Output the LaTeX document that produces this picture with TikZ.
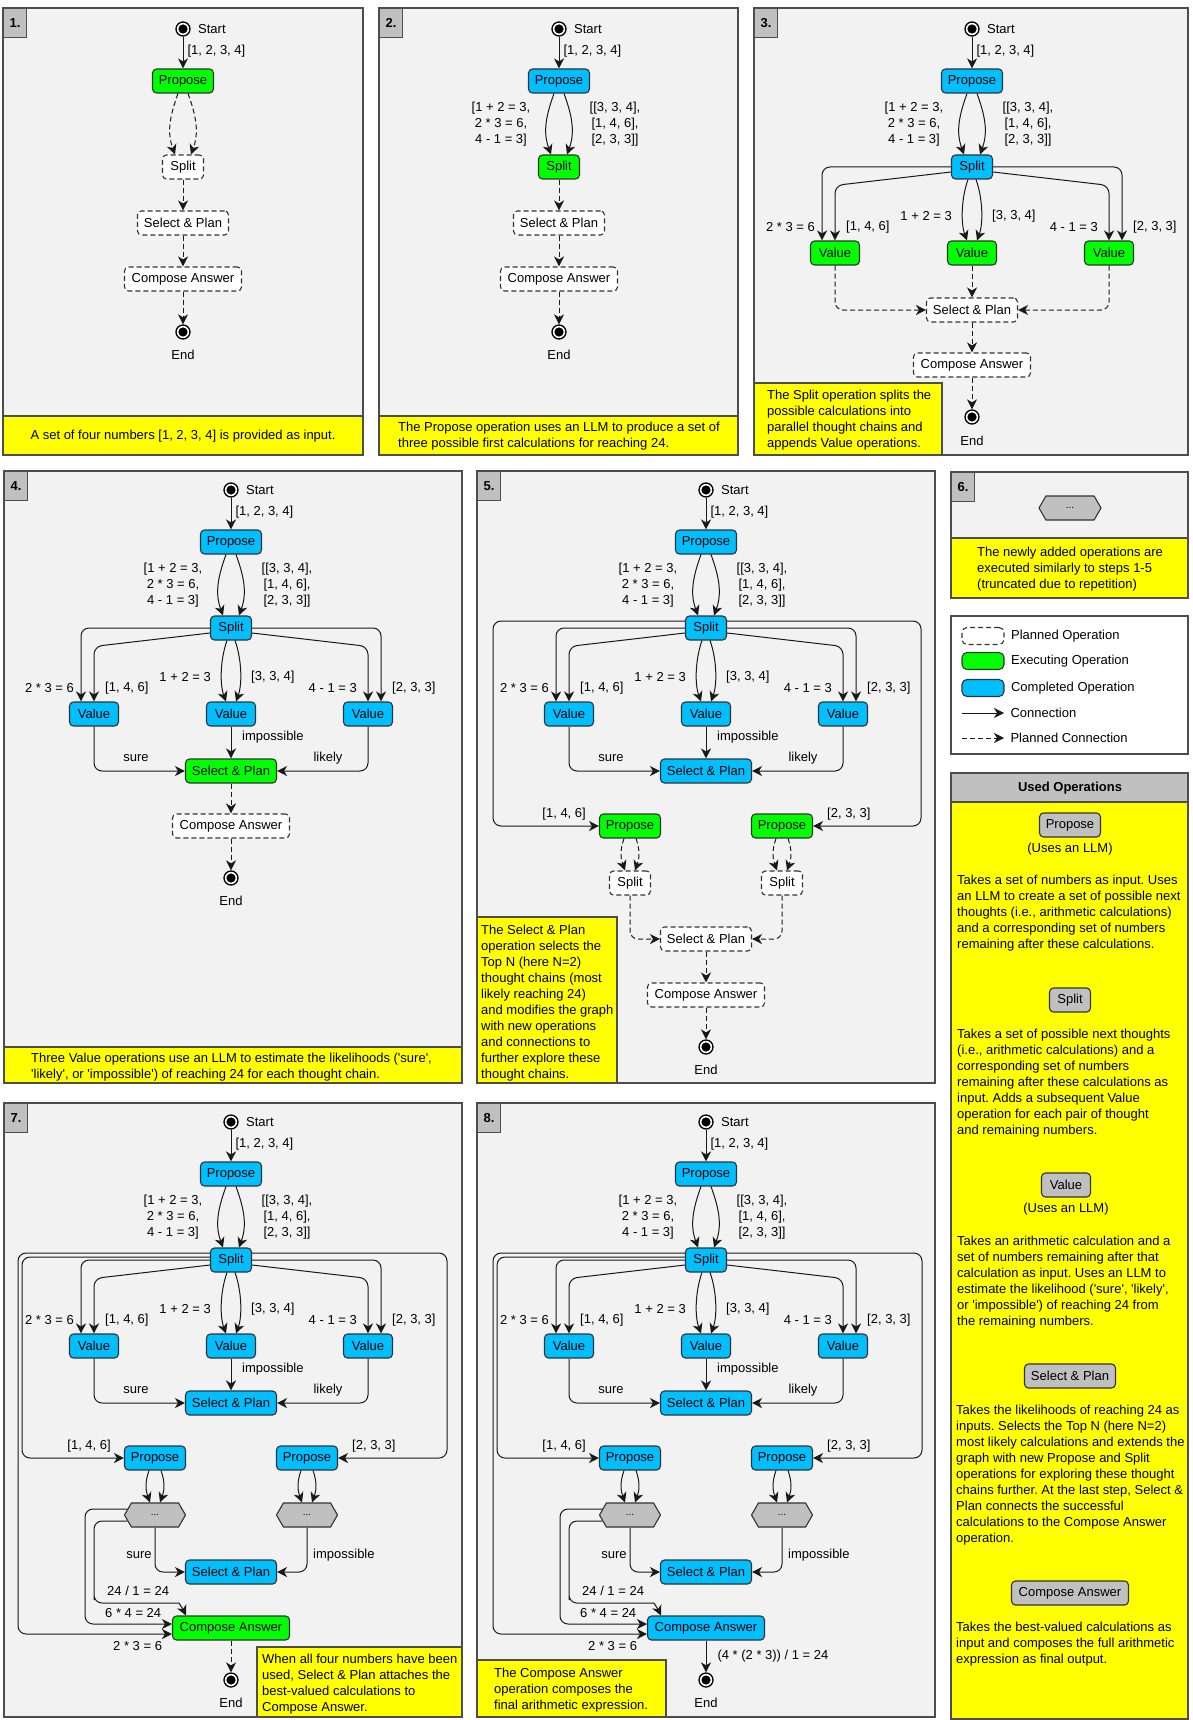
\documentclass[tikz,border=0pt]{standalone}
\usepackage{fontspec}
\setmainfont{Liberation Sans}[Ligatures=TeXOff]
\usetikzlibrary{arrows.meta,positioning,shapes.symbols}
\frenchspacing

\definecolor{panelbg}{HTML}{F2F2F2}
\definecolor{rimcol}{HTML}{4D4D4D}
\definecolor{tabgray}{HTML}{C0C0C0}
\definecolor{runcol}{HTML}{00FF00}
\definecolor{donecol}{HTML}{00BFFF}
\definecolor{notecol}{HTML}{FFFF00}

\newcommand{\bodyfont}{\fontsize{13pt}{16pt}\selectfont}

\tikzset{
  op/.style={draw=black!80, line width=1.1pt, rounded corners=4pt, minimum height=24pt, inner xsep=2pt, inner ysep=0pt},
  planned/.style={op, fill=white, dash pattern=on 5pt off 3pt},
  run/.style={op, fill=runcol},
  done/.style={op, fill=donecol},
  usedop/.style={op, fill=tabgray},
  wprop/.style={minimum width=61pt},
  wsplit/.style={minimum width=41pt},
  wvalue/.style={minimum width=49pt},
  wsel/.style={minimum width=91pt},
  wcomp/.style={minimum width=117pt},
  hexop/.style={signal, signal to=east and west, signal pointer angle=120, draw=black!80, line width=1.1pt, fill=tabgray, minimum width=61pt, minimum height=24pt, inner sep=0pt, font=\fontsize{10pt}{12pt}\selectfont},
  term/.style={circle, draw=black, line width=1.3pt, fill=white, minimum size=14pt, inner sep=0pt, path picture={\fill[black] (path picture bounding box.center) circle (4.6pt);}},
  flow/.style={draw=black!90, line width=1pt, -{Stealth[length=10pt, width=10pt, inset=3pt]}},
  planflow/.style={flow, dash pattern=on 5pt off 3pt},
  lbl/.style={inner sep=1pt},
  note/.style={align=left, inner sep=0pt, anchor=west},
  panel/.style={draw=rimcol, line width=1.3pt, fill=panelbg},
  caption/.style={draw=rimcol, line width=1.3pt, fill=notecol},
  tab/.style={draw=rimcol, line width=1.3pt, fill=tabgray, anchor=north west, minimum width=23pt, minimum height=29pt, inner sep=0pt, font=\bodyfont\bfseries},
}

\newcommand{\twin}[5]{%
  \draw[#1] ([xshift=-#4]#2.south) to[out=-110, in=110] ([xshift=-#5]#3.north);
  \draw[#1] ([xshift=#4]#2.south) to[out=-70, in=70] ([xshift=#5]#3.north);
}
\newcommand{\headrow}[4]{%
  \node[term] (#1start) at (0,0) {};
  \node[right=4pt of #1start] {Start};
  \node[#2, wprop] (#1prop) at (0,52) {Propose};
  \node[#3, wsplit] (#1split) at (0,138) {Split};
  \draw[flow] (#1start) -- node[lbl, right=3pt, pos=.45] {[1, 2, 3, 4]} (#1prop);
  \twin{#4}{#1prop}{#1split}{5pt}{8pt}
}
\newcommand{\calclabels}[1]{%
  \node[lbl, align=center] (#1calc) at (-58,95) {[1 + 2 = 3,\\2 * 3 = 6,\\4 - 1 = 3]};
  \node[lbl, align=center] (#1rest) at (56,95) {[[3, 3, 4],\\{}[1, 4, 6],\\{}[2, 3, 3]]};
}
\newcommand{\valuerow}[2]{%
  \node[#2, wvalue] (#1vl) at (-137,224) {Value};
  \node[#2, wvalue] (#1vm) at (0,224) {Value};
  \node[#2, wvalue] (#1vr) at (137,224) {Value};
  \draw[flow, rounded corners=8pt] (#1split.west) -| ([xshift=-13pt]#1vl.north);
  \draw[flow, rounded corners=8pt] ([yshift=-5pt]#1split.west) -- ([yshift=55pt]#1vl.north) -- (#1vl.north);
  \draw[flow, rounded corners=8pt] (#1split.east) -| ([xshift=13pt]#1vr.north);
  \draw[flow, rounded corners=8pt] ([yshift=-5pt]#1split.east) -- ([yshift=55pt]#1vr.north) -- (#1vr.north);
  \twin{flow, looseness=.8}{#1split}{#1vm}{4pt}{5pt}
  \node[lbl, anchor=east] at (-156,198) {2 * 3 = 6};
  \node[lbl, anchor=west] at (-127,198) {[1, 4, 6]};
  \node[lbl, anchor=east] at (-19,187) {1 + 2 = 3};
  \node[lbl, anchor=west] at (19,187) {[3, 3, 4]};
  \node[lbl, anchor=east] at (127,198) {4 - 1 = 3};
  \node[lbl, anchor=west] at (160,198) {[2, 3, 3]};
}
\newcommand{\valuejoin}[2]{%
  \draw[#2, rounded corners=8pt] (#1vl.south) |- (#1sel.west);
  \draw[#2] (#1vm) -- (#1sel);
  \draw[#2, rounded corners=8pt] (#1vr.south) |- (#1sel.east);
}
\newcommand{\valuewords}{%
  \node[lbl] at (-95,268) {sure};
  \node[lbl, anchor=west] at (10,247) {impossible};
  \node[lbl] at (97,268) {likely};
}
\newcommand{\branchrow}[2]{%
  \node[#2, wprop] (#1prl) at (-76,336) {Propose};
  \node[#2, wprop] (#1prr) at (76,336) {Propose};
  \node[lbl, anchor=east] at (-119,324) {[1, 4, 6]};
  \node[lbl, anchor=west] at (120,324) {[2, 3, 3]};
}

\begin{document}
\begin{tikzpicture}[x=1pt, y=-1pt, font=\bodyfont]
\fill[white] (0,0) rectangle (1192,1720);
\useasboundingbox (0,0) rectangle (1192,1720);

% 1.
\draw[panel] (3,8) rectangle (363,455);
\draw[caption] (3,416) rectangle (363,455);
\node[tab] at (3,8) {1.};
\node at (183,436) {A set of four numbers [1, 2, 3, 4] is provided as input.};
\begin{scope}[shift={(183,29)}]
  \headrow{a}{run}{planned}{planflow}
  \node[planned, wsel] (asel) at (0,194) {Select \& Plan};
  \node[planned, wcomp] (acomp) at (0,250) {Compose Answer};
  \node[term] (aend) at (0,303) {};
  \node[below=7pt of aend] {End};
  \draw[planflow] (asplit) -- (asel);
  \draw[planflow] (asel) -- (acomp);
  \draw[planflow] (acomp) -- (aend);
\end{scope}

% 2.
\draw[panel] (379,8) rectangle (738,455);
\draw[caption] (379,416) rectangle (738,455);
\node[tab] at (379,8) {2.};
\node[note] at (398,436) {The Propose operation uses an LLM to produce a set of\\three possible first calculations for reaching 24.};
\begin{scope}[shift={(559,29)}]
  \headrow{b}{done}{run}{flow}
  \calclabels{b}
  \node[planned, wsel] (bsel) at (0,194) {Select \& Plan};
  \node[planned, wcomp] (bcomp) at (0,250) {Compose Answer};
  \node[term] (bend) at (0,303) {};
  \node[below=7pt of bend] {End};
  \draw[planflow] (bsplit) -- (bsel);
  \draw[planflow] (bsel) -- (bcomp);
  \draw[planflow] (bcomp) -- (bend);
\end{scope}

% 3.
\draw[panel] (754,8) rectangle (1188,455);
\draw[caption] (754,383) rectangle (942,455);
\node[tab] at (754,8) {3.};
\node[note] at (767,420) {The Split operation splits the\\possible calculations into\\parallel thought chains and\\appends Value operations.};
\begin{scope}[shift={(972,29)}]
  \headrow{c}{done}{done}{flow}
  \calclabels{c}
  \valuerow{c}{run}
  \node[planned, wsel] (csel) at (0,281) {Select \& Plan};
  \valuejoin{c}{planflow}
  \node[planned, wcomp] (ccomp) at (0,336) {Compose Answer};
  \node[term] (cend) at (0,388) {};
  \node[below=8pt of cend] {End};
  \draw[planflow] (csel) -- (ccomp);
  \draw[planflow] (ccomp) -- (cend);
\end{scope}

% 4.
\draw[panel] (4,471) rectangle (462,1083);
\draw[caption] (4,1047) rectangle (462,1083);
\node[tab] at (4,471) {4.};
\node[note] at (31,1067) {Three Value operations use an LLM to estimate the likelihoods ('sure',\\'likely', or 'impossible') of reaching 24 for each thought chain.};
\begin{scope}[shift={(231,490)}]
  \headrow{d}{done}{done}{flow}
  \calclabels{d}
  \valuerow{d}{done}
  \node[run, wsel] (dsel) at (0,281) {Select \& Plan};
  \valuejoin{d}{flow}
  \valuewords
  \node[planned, wcomp] (dcomp) at (0,336) {Compose Answer};
  \node[term] (dend) at (0,388) {};
  \node[below=7pt of dend] {End};
  \draw[planflow] (dsel) -- (dcomp);
  \draw[planflow] (dcomp) -- (dend);
\end{scope}

% 5.
\draw[panel] (477,471) rectangle (935,1083);
\draw[caption] (477,917) rectangle (617,1083);
\node[tab] at (477,471) {5.};
\node[note] at (481,1003) {The Select \& Plan\\operation selects the\\Top N (here N=2)\\thought chains (most\\likely reaching 24)\\and modifies the graph\\with new operations\\and connections to\\further explore these\\thought chains.};
\begin{scope}[shift={(706,490)}]
  \headrow{e}{done}{done}{flow}
  \calclabels{e}
  \valuerow{e}{done}
  \node[done, wsel] (esel) at (0,281) {Select \& Plan};
  \valuejoin{e}{flow}
  \valuewords
  \branchrow{e}{run}
  \draw[flow, rounded corners=8pt] ([yshift=7pt]esplit.west) -| (-213,300) |- (eprl.west);
  \draw[flow, rounded corners=8pt] ([yshift=7pt]esplit.east) -| (215,300) |- (eprr.east);
  \node[planned, wsplit] (espl) at (-76,393) {Split};
  \node[planned, wsplit] (espr) at (76,393) {Split};
  \twin{planflow}{eprl}{espl}{6pt}{5pt}
  \twin{planflow}{eprr}{espr}{6pt}{5pt}
  \node[planned, wsel] (esel2) at (0,449) {Select \& Plan};
  \draw[planflow, rounded corners=8pt] (espl.south) |- (esel2.west);
  \draw[planflow, rounded corners=8pt] (espr.south) |- (esel2.east);
  \node[planned, wcomp] (ecomp) at (0,505) {Compose Answer};
  \node[term] (eend) at (0,557) {};
  \node[below=7pt of eend] {End};
  \draw[planflow] (esel2) -- (ecomp);
  \draw[planflow] (ecomp) -- (eend);
\end{scope}

% 6.
\draw[panel] (951,472) rectangle (1188,598);
\draw[caption] (951,538) rectangle (1188,598);
\node[tab] at (951,472) {6.};
\node[hexop, minimum width=62pt] (fhex) at (1070,508) {...};
\node[note] at (977,569) {The newly added operations are\\executed similarly to steps 1-5\\(truncated due to repetition)};

% legend
\draw[draw=rimcol, line width=1.3pt, fill=white] (951,616) rectangle (1188,754);
\node[planned, minimum width=42pt, minimum height=17pt, rounded corners=5pt] (keyplan) at (983,636) {};
\node[run, minimum width=42pt, minimum height=17pt, rounded corners=5pt] (keyrun) at (983,661) {};
\node[done, minimum width=42pt, minimum height=17pt, rounded corners=5pt] (keydone) at (983,688) {};
\node[right=3pt of keyplan] {Planned Operation};
\node[right=3pt of keyrun] {Executing Operation};
\node[right=3pt of keydone] {Completed Operation};
\coordinate (keyfrom) at (962,713);
\coordinate (keyto) at (1004,713);
\coordinate (keyfrom2) at (962,738);
\coordinate (keyto2) at (1004,738);
\draw[flow] (keyfrom) -- (keyto);
\draw[planflow] (keyfrom2) -- (keyto2);
\node[right=3pt of keyto] {Connection};
\node[right=3pt of keyto2] {Planned Connection};

% used operations
\draw[draw=rimcol, line width=1.3pt, fill=notecol] (951,773) rectangle (1188,1719);
\draw[draw=rimcol, line width=1.3pt, fill=tabgray] (951,773) rectangle (1188,802);
\node[font=\bodyfont\bfseries] at (1070,788) {Used Operations};
\node[usedop, wprop] (kprop) at (1070,825) {Propose};
\node[below=2pt of kprop] {(Uses an LLM)};
\node[note] at (957,913) {Takes a set of numbers as input. Uses\\an LLM to create a set of possible next\\thoughts (i.e., arithmetic calculations)\\and a corresponding set of numbers\\remaining after these calculations.};
\node[usedop, wsplit] (ksplit) at (1070,1000) {Split};
\node[note] at (957,1083) {Takes a set of possible next thoughts\\(i.e., arithmetic calculations) and a\\corresponding set of numbers\\remaining after these calculations as\\input. Adds a subsequent Value\\operation for each pair of thought\\and remaining numbers.};
\node[usedop, wvalue] (kvalue) at (1066,1185) {Value};
\node[below=2pt of kvalue] {(Uses an LLM)};
\node[note] at (957,1282) {Takes an arithmetic calculation and a\\set of numbers remaining after that\\calculation as input. Uses an LLM to\\estimate the likelihood ('sure', 'likely',\\or 'impossible') of reaching 24 from\\the remaining numbers.};
\node[usedop, wsel] (ksel) at (1070,1376) {Select \& Plan};
\node[note] at (956,1475) {Takes the likelihoods of reaching 24 as\\inputs. Selects the Top N (here N=2)\\most likely calculations and extends the\\graph with new Propose and Split\\operations for exploring these thought\\chains further. At the last step, Select \&\\Plan connects the successful\\calculations to the Compose Answer\\operation.};
\node[usedop, wcomp] (kcomp) at (1070,1593) {Compose Answer};
\node[note] at (956,1644) {Takes the best-valued calculations as\\input and composes the full arithmetic\\expression as final output.};

% 7.
\draw[panel] (4,1103) rectangle (462,1717);
\draw[caption] (257,1647) rectangle (462,1717);
\node[tab] at (4,1103) {7.};
\node[note] at (262,1684) {When all four numbers have been\\used, Select \& Plan attaches the\\best-valued calculations to\\Compose Answer.};
\begin{scope}[shift={(231,1122)}]
  \headrow{g}{done}{done}{flow}
  \calclabels{g}
  \valuerow{g}{done}
  \node[done, wsel] (gsel) at (0,281) {Select \& Plan};
  \valuejoin{g}{flow}
  \valuewords
  \branchrow{g}{done}
  \draw[flow, rounded corners=8pt] ([yshift=3pt]gsplit.west) -| (-209,300) |- (gprl.west);
  \draw[flow, rounded corners=8pt] ([yshift=7pt]gsplit.east) -| (216,300) |- (gprr.east);
  \node[hexop] (ghl) at (-76,393) {...};
  \node[hexop] (ghr) at (76,393) {...};
  \twin{flow}{gprl}{ghl}{6pt}{5pt}
  \twin{flow}{gprr}{ghr}{6pt}{5pt}
  \node[done, wsel] (gsel2) at (0,450) {Select \& Plan};
  \draw[flow, rounded corners=8pt] (ghl.south) |- (gsel2.west);
  \draw[flow, rounded corners=8pt] (ghr.south) |- (gsel2.east);
  \node[lbl] at (-92,433) {sure};
  \node[lbl, anchor=west] at (81,433) {impossible};
  \node[run, wcomp] (gcomp) at (0,506) {Compose Answer};
  \draw[flow, rounded corners=8pt] ([xshift=3.5pt,yshift=-6pt]ghl.west) -| (-137,470) |- (-60,481) to[out=0, in=115] ([xshift=14pt]gcomp.north west);
  \draw[flow, rounded corners=8pt] ([xshift=3.5pt,yshift=6pt]ghl.west) -| (-146,480) |- ([yshift=4pt]gcomp.west);
  \draw[flow, rounded corners=8pt] ([yshift=7pt]gsplit.west) -| (-213,480) |- ([yshift=-6pt]gcomp.west);
  \node[lbl, anchor=west] at (-125,469) {24 / 1 = 24};
  \node[lbl, anchor=west] at (-127,491) {6 * 4 = 24};
  \node[lbl, anchor=west] at (-119,524) {2 * 3 = 6};
  \node[term] (gend) at (0,558) {};
  \node[below=7pt of gend] {End};
  \draw[planflow] (gcomp) -- (gend);
\end{scope}

% 8.
\draw[panel] (477,1103) rectangle (935,1717);
\draw[caption] (477,1660) rectangle (666,1717);
\node[tab] at (477,1103) {8.};
\node[note] at (494,1690) {The Compose Answer\\operation composes the\\final arithmetic expression.};
\begin{scope}[shift={(706,1122)}]
  \headrow{h}{done}{done}{flow}
  \calclabels{h}
  \valuerow{h}{done}
  \node[done, wsel] (hsel) at (0,281) {Select \& Plan};
  \valuejoin{h}{flow}
  \valuewords
  \branchrow{h}{done}
  \draw[flow, rounded corners=8pt] ([yshift=3pt]hsplit.west) -| (-209,300) |- (hprl.west);
  \draw[flow, rounded corners=8pt] ([yshift=7pt]hsplit.east) -| (216,300) |- (hprr.east);
  \node[hexop] (hhl) at (-76,393) {...};
  \node[hexop] (hhr) at (76,393) {...};
  \twin{flow}{hprl}{hhl}{6pt}{5pt}
  \twin{flow}{hprr}{hhr}{6pt}{5pt}
  \node[done, wsel] (hsel2) at (0,450) {Select \& Plan};
  \draw[flow, rounded corners=8pt] (hhl.south) |- (hsel2.west);
  \draw[flow, rounded corners=8pt] (hhr.south) |- (hsel2.east);
  \node[lbl] at (-92,433) {sure};
  \node[lbl, anchor=west] at (81,433) {impossible};
  \node[done, wcomp] (hcomp) at (0,506) {Compose Answer};
  \draw[flow, rounded corners=8pt] ([xshift=3.5pt,yshift=-6pt]hhl.west) -| (-137,470) |- (-60,481) to[out=0, in=115] ([xshift=14pt]hcomp.north west);
  \draw[flow, rounded corners=8pt] ([xshift=3.5pt,yshift=6pt]hhl.west) -| (-146,480) |- ([yshift=4pt]hcomp.west);
  \draw[flow, rounded corners=8pt] ([yshift=7pt]hsplit.west) -| (-213,480) |- ([yshift=-6pt]hcomp.west);
  \node[lbl, anchor=west] at (-125,469) {24 / 1 = 24};
  \node[lbl, anchor=west] at (-127,491) {6 * 4 = 24};
  \node[lbl, anchor=west] at (-119,524) {2 * 3 = 6};
  \node[term] (hend) at (0,558) {};
  \node[below=7pt of hend] {End};
  \draw[flow] (hcomp) -- node[lbl, right=10pt, pos=.5] {(4 * (2 * 3)) / 1 = 24} (hend);
\end{scope}
\end{tikzpicture}
\end{document}
